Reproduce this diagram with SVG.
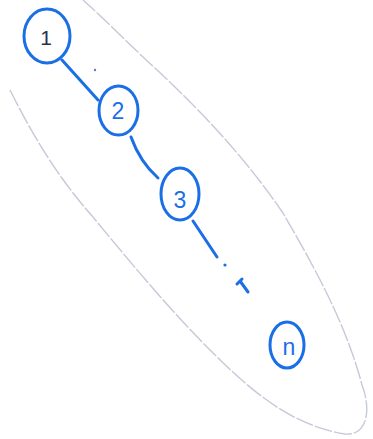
<svg xmlns="http://www.w3.org/2000/svg" width="373" height="439" viewBox="0 0 373 439">
<style>
.node{fill:none;stroke:#1a6fe6;stroke-width:3}
.lbl{font-family:"Liberation Sans",Arial,sans-serif;font-size:23px;fill:#1a6fe6;text-anchor:middle}
.edge{fill:none;stroke:#1a6fe6;stroke-width:3;stroke-linecap:round}
</style>
<rect width="373" height="439" fill="#ffffff"/>
<path d="M 10,90 C 35,140 60,180 93,217 C 130,262 170,310 210,350 C 250,390 290,425 345,434 C 370,436 370,405 362,385 C 345,320 310,260 283,213 C 240,150 190,100 143,57 C 120,35 100,15 83,0" fill="none" stroke="#c6c9d8" stroke-width="1.4" stroke-dasharray="18 2"/>
<g id="connectors">
<path class="edge" d="M 62,60 L 98,100"/>
<path class="edge" d="M 131,137 Q 140,162 158,178"/>
<path class="edge" d="M 193,221 L 217,257"/>
<circle cx="225" cy="265" r="1.6" fill="#1a6fe6"/>
<path class="edge" d="M 240,281 L 248,292 M 237,284 L 242,279"/>
<circle cx="95" cy="70" r="1.2" fill="#6a7aa8"/>
</g>
<g id="node1">
<ellipse class="node" cx="47" cy="36" rx="23" ry="27"/>
<text class="lbl" x="46" y="45" style="fill:#2a3050;font-size:21px">1</text>
</g>
<g id="node2">
<ellipse class="node" cx="118.5" cy="110.5" rx="19.5" ry="24.5"/>
<text class="lbl" x="118" y="119">2</text>
</g>
<g id="node3">
<ellipse class="node" cx="180" cy="194" rx="19" ry="26"/>
<text class="lbl" x="180" y="208">3</text>
</g>
<g id="noden">
<ellipse class="node" cx="287" cy="345" rx="17" ry="23"/>
<text class="lbl" x="289" y="355">n</text>
</g>
</svg>
